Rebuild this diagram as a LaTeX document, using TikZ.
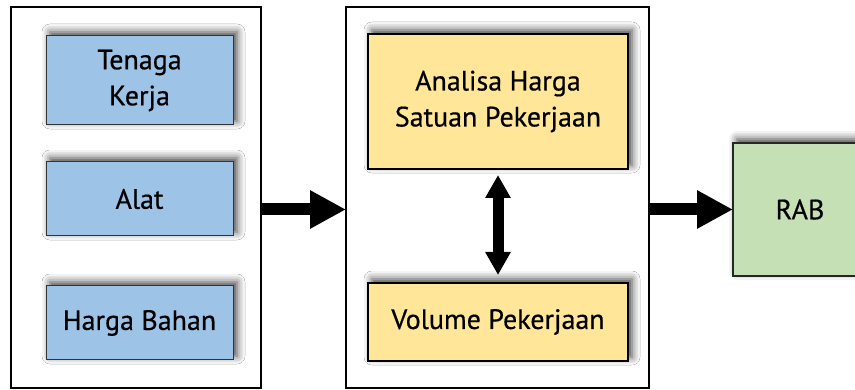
\documentclass[tikz,border=0pt]{standalone}
\usepackage{fontspec}
\setmainfont[FakeBold=0.5]{PT Sans}
\usetikzlibrary{arrows.meta,shadows.blur}

\definecolor{inputblue}{HTML}{9DC3E6}
\definecolor{processyellow}{HTML}{FFE699}
\definecolor{outputgreen}{HTML}{C5E0B4}

\tikzset{
  frame/.style={draw=black, line width=2pt, fill=white, inner sep=0pt, outer sep=0pt},
  softshadow/.style={blur shadow={shadow xshift=4pt, shadow yshift=4pt,
      shadow blur radius=8pt, shadow opacity=75}},
  itembox/.style={inner sep=0pt, outer sep=0pt, align=center,
      font=\fontsize{28}{36}\selectfont, softshadow},
  inputbox/.style={itembox, draw=black!80, line width=1pt, fill=inputblue},
  processbox/.style={itembox, draw=black, line width=2pt, fill=processyellow},
  outputbox/.style={itembox, draw=black!85, line width=1.5pt, fill=outputgreen},
  bigarrow/.style={line width=12pt, -{Triangle[length=36pt,width=36pt]}},
  twoway/.style={line width=11pt, {Triangle[length=23pt,width=24pt]}-{Triangle[length=23pt,width=24pt]}},
}

\begin{document}
\begin{tikzpicture}[x=1pt, y=-1pt]
  \useasboundingbox (0,0) rectangle (855,390);
  \clip (0,0) rectangle (855,390);

  % resources group
  \node[frame, minimum width=250pt, minimum height=381pt] (res) at (136,197.5) {};
  \node[inputbox, minimum width=187pt, minimum height=89pt] (tk) at (139.5,80.5) {Tenaga\\Kerja};
  \node[inputbox, minimum width=187pt, minimum height=74pt] (alat) at (139.5,199) {Alat};
  \node[inputbox, minimum width=187pt, minimum height=74pt] (bahan) at (139.5,323) {Harga Bahan};

  % analysis group
  \node[frame, minimum width=303pt, minimum height=381pt] (proc) at (497.5,197.5) {};
  \node[processbox, minimum width=260pt, minimum height=135pt] (ahs) at (498,101.5) {Analisa Harga\\Satuan Pekerjaan};
  \node[processbox, minimum width=260pt, minimum height=78pt] (vol) at (498,322) {Volume Pekerjaan};

  % result
  \node[outputbox, minimum width=134pt, minimum height=133pt] (rab) at (800,209.5) {RAB};

  % connectors
  \draw[bigarrow] (res.east |- rab.center) -- (proc.west |- rab.center);
  \draw[bigarrow] (proc.east |- rab.center) -- (rab.west);
  \draw[twoway, shorten <=6pt, shorten >=8pt] (ahs.south) -- (vol.north);
\end{tikzpicture}
\end{document}
